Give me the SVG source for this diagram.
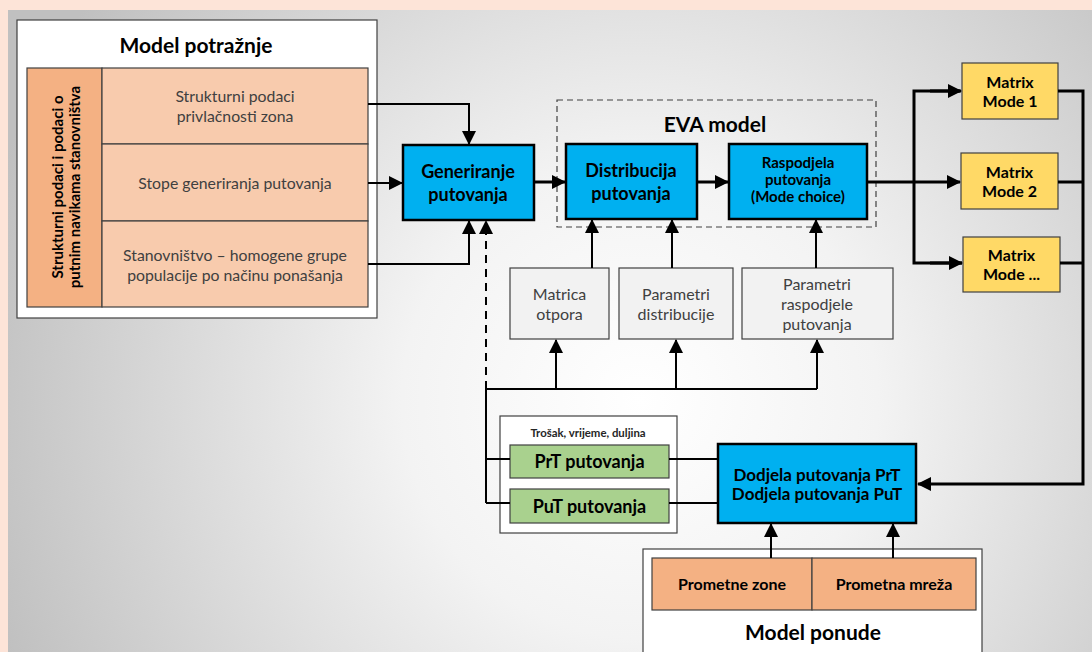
<svg xmlns="http://www.w3.org/2000/svg" width="1092" height="652" viewBox="0 0 1092 652">
<defs>
<radialGradient id="bg" gradientUnits="userSpaceOnUse" cx="640" cy="400" r="680">
<stop offset="0" stop-color="#ffffff"/>
<stop offset="0.35" stop-color="#f3f3f3"/>
<stop offset="1" stop-color="#c0c0c0"/>
</radialGradient>
<marker id="ah" markerUnits="userSpaceOnUse" markerWidth="14" markerHeight="14" viewBox="0 0 14 14" refX="13" refY="7" orient="auto">
<path d="M0,0 L14,7 L0,14 z" fill="#000"/>
</marker>
<style>
.t{font-family:Lato,"Open Sans","Liberation Sans",sans-serif;text-anchor:middle}
.b{font-weight:bold;fill:#000}
.n{fill:#404040}
.ln{fill:none;stroke:#000;stroke-width:2}
.thk{fill:none;stroke:#000;stroke-width:3}
.blue{fill:#00b0f0;stroke:#000;stroke-width:2.5}
.gray{fill:#f2f2f2;stroke:#404040;stroke-width:1.2}
.or1{fill:#f8cbad;stroke:#404040;stroke-width:1.2}
.or2{fill:#f4b183;stroke:#404040;stroke-width:1.2}
.yel{fill:#ffd966;stroke:#404040;stroke-width:1.2}
.grn{fill:#a9d18e;stroke:#404040;stroke-width:1.2}
.wht{fill:#fff;stroke:#404040;stroke-width:1.2}
</style>
</defs>
<rect x="0" y="0" width="1092" height="652" fill="#fde4d8"/>
<rect x="8" y="10" width="1084" height="642" fill="url(#bg)"/>

<g id="model-potraznje">
<rect x="17" y="20" width="360" height="298" class="wht" stroke-width="1.5"/>
<text x="196" y="53" class="t b" font-size="21">Model potražnje</text>
<rect x="27" y="68" width="75" height="239" class="or2"/>
<text class="t b" font-size="15" transform="translate(64,187) rotate(-90)"><tspan x="0" y="-1">Strukturni podaci i podaci o</tspan><tspan x="0" y="16">putnim navikama stanovništva</tspan></text>
<rect x="102" y="68" width="266" height="76" class="or1"/>
<rect x="102" y="144" width="266" height="77" class="or1"/>
<rect x="102" y="221" width="266" height="86" class="or1"/>
<text class="t n" font-size="15.8"><tspan x="235" y="102">Strukturni podaci</tspan><tspan x="235" y="122">privlačnosti zona</tspan></text>
<text x="235" y="189" class="t n" font-size="15.8">Stope generiranja putovanja</text>
<text class="t n" font-size="15.8"><tspan x="235" y="261">Stanovništvo – homogene grupe</tspan><tspan x="235" y="281">populacije po načinu ponašanja</tspan></text>
</g>

<g id="eva-model">
<rect x="557" y="100" width="319" height="127" fill="none" stroke="#404040" stroke-width="1.2" stroke-dasharray="6,4"/>
<text x="715" y="132" class="t b" font-size="21">EVA model</text>
</g>

<g id="generiranje">
<rect x="403" y="145" width="131" height="75" class="blue"/>
<text class="t b" font-size="18"><tspan x="468" y="178">Generiranje</tspan><tspan x="468" y="201">putovanja</tspan></text>
</g>
<g id="distribucija">
<rect x="566" y="144" width="131" height="75" class="blue"/>
<text class="t b" font-size="18"><tspan x="631" y="177">Distribucija</tspan><tspan x="631" y="200">putovanja</tspan></text>
</g>
<g id="raspodjela">
<rect x="729" y="144" width="138" height="75" class="blue"/>
<text class="t b" font-size="15"><tspan x="798" y="168">Raspodjela</tspan><tspan x="798" y="185">putovanja</tspan><tspan x="798" y="202">(Mode choice)</tspan></text>
</g>

<g id="matrica-otpora">
<rect x="510" y="268" width="99" height="71" class="gray"/>
<text class="t n" font-size="16"><tspan x="559.5" y="300">Matrica</tspan><tspan x="559.5" y="320">otpora</tspan></text>
</g>
<g id="parametri-distribucije">
<rect x="619" y="268" width="114" height="71" class="gray"/>
<text class="t n" font-size="16"><tspan x="676" y="300">Parametri</tspan><tspan x="676" y="320">distribucije</tspan></text>
</g>
<g id="parametri-raspodjele">
<rect x="742" y="268" width="151" height="71" class="gray"/>
<text class="t n" font-size="16"><tspan x="817" y="290">Parametri</tspan><tspan x="817" y="310">raspodjele</tspan><tspan x="817" y="330">putovanja</tspan></text>
</g>

<g id="matrix-1">
<rect x="962" y="63" width="96" height="56" class="yel"/>
<text class="t b" font-size="16"><tspan x="1010" y="88">Matrix</tspan><tspan x="1010" y="107">Mode 1</tspan></text>
</g>
<g id="matrix-2">
<rect x="961" y="153" width="97" height="56" class="yel"/>
<text class="t b" font-size="16"><tspan x="1009.5" y="178">Matrix</tspan><tspan x="1009.5" y="197">Mode 2</tspan></text>
</g>
<g id="matrix-n">
<rect x="963" y="237" width="97" height="55" class="yel"/>
<text class="t b" font-size="16"><tspan x="1011.5" y="261">Matrix</tspan><tspan x="1011.5" y="280">Mode ...</tspan></text>
</g>

<g id="trosak">
<rect x="500" y="416" width="177" height="117" class="wht"/>
<text x="588" y="437" class="t" font-size="11.4" font-weight="bold" fill="#262626">Trošak, vrijeme, duljina</text>
</g>
<g id="prt">
<rect x="510" y="445" width="159" height="33" class="grn"/>
<text x="589.5" y="468" class="t b" font-size="18">PrT putovanja</text>
</g>
<g id="put">
<rect x="510" y="489" width="159" height="34" class="grn"/>
<text x="589.5" y="513" class="t b" font-size="18">PuT putovanja</text>
</g>

<g id="dodjela">
<rect x="718" y="444" width="198" height="79" class="blue"/>
<text class="t b" font-size="17" fill="#0d0d0d"><tspan x="817" y="481">Dodjela putovanja PrT</tspan><tspan x="817" y="500">Dodjela putovanja PuT</tspan></text>
</g>

<g id="model-ponude">
<rect x="643" y="549" width="339" height="110" class="wht"/>
<rect x="652" y="558" width="160" height="52" class="or2"/>
<rect x="812" y="558" width="164" height="52" class="or2"/>
<text x="732" y="590" class="t b" font-size="16" fill="#262626">Prometne zone</text>
<text x="894" y="590" class="t b" font-size="16" fill="#262626">Prometna mreža</text>
<text x="813" y="640" class="t b" font-size="21">Model ponude</text>
</g>

<g id="connectors">
<polyline points="368,104 469,104 469,144" class="ln" marker-end="url(#ah)"/>
<line x1="368" y1="183" x2="402" y2="183" class="ln" marker-end="url(#ah)"/>
<polyline points="368,264 469,264 469,221" class="ln" marker-end="url(#ah)"/>
<line x1="486" y1="389" x2="486" y2="221" class="ln" stroke-dasharray="8,6" marker-end="url(#ah)"/>
<line x1="534" y1="182" x2="565" y2="182" class="thk" marker-end="url(#ah)"/>
<line x1="697" y1="182" x2="728" y2="182" class="thk" marker-end="url(#ah)"/>
<line x1="592" y1="268" x2="592" y2="220" class="ln" marker-end="url(#ah)"/>
<line x1="672" y1="268" x2="672" y2="220" class="ln" marker-end="url(#ah)"/>
<line x1="816" y1="268" x2="816" y2="220" class="ln" marker-end="url(#ah)"/>
<polyline points="486,503 486,389 817,389" class="ln"/>
<line x1="556" y1="389" x2="556" y2="340" class="ln" marker-end="url(#ah)"/>
<line x1="676" y1="389" x2="676" y2="340" class="ln" marker-end="url(#ah)"/>
<line x1="817" y1="389" x2="817" y2="340" class="ln" marker-end="url(#ah)"/>
<line x1="486" y1="459" x2="510" y2="459" class="ln"/>
<line x1="486" y1="503" x2="510" y2="503" class="ln"/>
<line x1="669" y1="459" x2="718" y2="459" class="ln"/>
<line x1="669" y1="503" x2="718" y2="503" class="ln"/>
<line x1="867" y1="182" x2="960" y2="182" class="thk" marker-end="url(#ah)"/>
<polyline points="960,91 914,91 914,263 962,263" class="thk"/>
<line x1="930" y1="91" x2="961" y2="91" class="thk" marker-end="url(#ah)"/>
<line x1="930" y1="263" x2="962" y2="263" class="thk" marker-end="url(#ah)"/>
<polyline points="1058,91 1083,91 1083,484 918,484" class="thk" marker-end="url(#ah)"/>
<line x1="1058" y1="182" x2="1083" y2="182" class="thk"/>
<line x1="1060" y1="263" x2="1083" y2="263" class="thk"/>
<line x1="771" y1="558" x2="771" y2="524" class="ln" marker-end="url(#ah)"/>
<line x1="893" y1="558" x2="893" y2="524" class="ln" marker-end="url(#ah)"/>
</g>
</svg>
